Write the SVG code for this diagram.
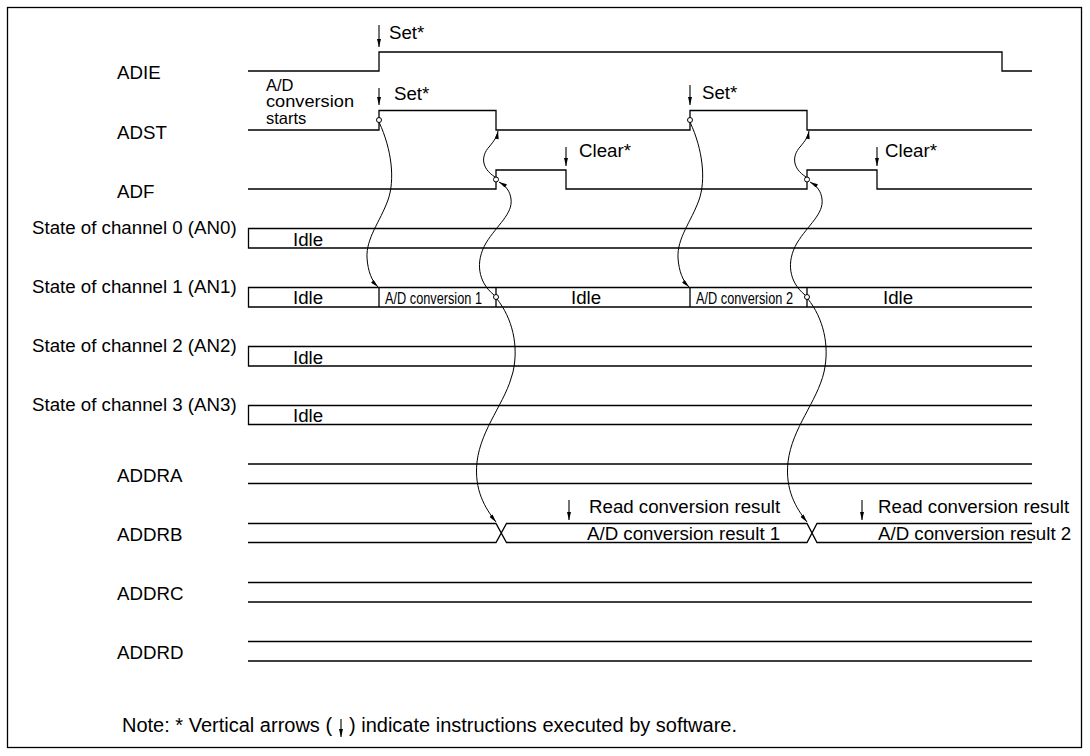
<svg xmlns="http://www.w3.org/2000/svg" width="1090" height="756" viewBox="0 0 1090 756">
<defs>
<marker id="ah" viewBox="0 0 10 5" refX="10" refY="2.5" markerWidth="9" markerHeight="4" markerUnits="userSpaceOnUse" orient="auto"><path d="M0,0 L10,2.5 L0,5 z" fill="#000"/></marker>
<style>
text{font-family:"Liberation Sans",Arial,sans-serif;font-size:18.7px;fill:#000}
.sm{font-size:16px}
.st{font-size:16.5px}
.nt{font-size:20px}
.w{fill:none;stroke:#000;stroke-width:1.3}
.c{fill:none;stroke:#000;stroke-width:1}
.sw{fill:none;stroke:#000;stroke-width:1.1;marker-end:url(#ah)}
.o{fill:#fff;stroke:#000;stroke-width:1}
</style>
</defs>
<rect x="0" y="0" width="1090" height="756" fill="#fff"/>
<rect x="7.5" y="7.5" width="1074" height="740" fill="none" stroke="#000" stroke-width="1.3"/>

<g id="adie">
<text x="117" y="79">ADIE</text>
<path class="w" d="M248,71 H379 V52 H1002 V71 H1032"/>
<line class="sw" x1="379" y1="25" x2="379" y2="47"/>
<text x="389" y="39">Set*</text>
</g>

<g id="adst">
<text x="117" y="139">ADST</text>
<text class="st" x="266" y="90.5"><tspan x="266" y="90.5">A/D</tspan><tspan x="266" y="107" textLength="88" lengthAdjust="spacingAndGlyphs">conversion</tspan><tspan x="266" y="123.5">starts</tspan></text>
<path class="w" d="M248,130 H379 V110.5 H496 V130 H690 V110.5 H807 V130 H1032"/>
<line class="sw" x1="379" y1="88" x2="379" y2="105"/>
<text x="394" y="100">Set*</text>
<line class="sw" x1="690" y1="85" x2="690" y2="105"/>
<text x="702" y="99">Set*</text>
</g>

<g id="adf">
<text x="117" y="198">ADF</text>
<path class="w" d="M248,189 H496 V170 H566 V189 H807 V170 H877 V189 H1032"/>
<line class="sw" x1="566" y1="147" x2="566" y2="166"/>
<text x="579" y="157">Clear*</text>
<line class="sw" x1="877" y1="147" x2="877" y2="166"/>
<text x="885" y="157">Clear*</text>
</g>

<g id="ch0">
<text x="32" y="234">State of channel 0 (AN0)</text>
<path class="w" d="M1032,228.5 H248.5 V248 H1032"/>
<text x="293" y="245.5">Idle</text>
</g>

<g id="ch1">
<text x="32" y="293">State of channel 1 (AN1)</text>
<path class="w" d="M1032,287.5 H248.5 V307 H1032 M379,287.5 V307 M496,287.5 V307 M690,287.5 V307 M807,287.5 V307"/>
<text x="293" y="304">Idle</text>
<text class="sm" x="385" y="303.5" textLength="97" lengthAdjust="spacingAndGlyphs">A/D conversion 1</text>
<text x="571" y="304">Idle</text>
<text class="sm" x="696" y="303.5" textLength="97" lengthAdjust="spacingAndGlyphs">A/D conversion 2</text>
<text x="883" y="304">Idle</text>
</g>

<g id="ch2">
<text x="32" y="352">State of channel 2 (AN2)</text>
<path class="w" d="M1032,346.5 H248.5 V366 H1032"/>
<text x="293" y="363.5">Idle</text>
</g>

<g id="ch3">
<text x="32" y="411">State of channel 3 (AN3)</text>
<path class="w" d="M1032,405.5 H248.5 V424.5 H1032"/>
<text x="293" y="422">Idle</text>
</g>

<g id="addra">
<text x="117" y="482">ADDRA</text>
<path class="w" d="M248,464 H1032 M248,483.5 H1032"/>
</g>

<g id="addrb">
<text x="117" y="541">ADDRB</text>
<path class="w" d="M248,523.5 H496 L506.5,542.5 H807 L817,523.5 H1032 M248,542.5 H496 L506.5,523.5 H807 L817,542.5 H1032"/>
<line class="sw" x1="569" y1="500" x2="569" y2="520"/>
<text x="589" y="513">Read conversion result</text>
<text x="587" y="540">A/D conversion result 1</text>
<line class="sw" x1="862" y1="500" x2="862" y2="520"/>
<text x="878" y="513">Read conversion result</text>
<text x="878" y="540">A/D conversion result 2</text>
</g>

<g id="addrc">
<text x="117" y="600">ADDRC</text>
<path class="w" d="M248,582.5 H1032 M248,602 H1032"/>
</g>

<g id="addrd">
<text x="117" y="659">ADDRD</text>
<path class="w" d="M248,641.5 H1032 M248,661 H1032"/>
</g>

<g id="connectors">
<path class="c" marker-end="url(#ah)" d="M379,122 C392,150 395,180 388,200 C380,222 366,238 367,258 C368,272 372,281 378,287"/>
<path class="c" marker-end="url(#ah)" d="M495,177 C481,168 481,156 489,147 C494,141 497,137 498,131"/>
<path class="c" marker-end="url(#ah)" d="M497,299 C512,318 519,345 513,372 C506,402 481,428 477,462 C474,490 485,508 496,522"/>
<path class="c" marker-end="url(#ah)" d="M494,295 C478,282 475,262 486,243 C497,225 513,214 511,199 C510,191 506,186 499,182"/>
<path class="c" marker-end="url(#ah)" d="M690,122 C703,150 706,180 699,200 C691,222 677,238 678,258 C679,272 683,281 689,287"/>
<path class="c" marker-end="url(#ah)" d="M806,177 C792,168 792,156 800,147 C805,141 808,137 809,131"/>
<path class="c" marker-end="url(#ah)" d="M808,299 C823,318 830,345 824,372 C817,402 792,428 788,462 C785,490 796,508 807,522"/>
<path class="c" marker-end="url(#ah)" d="M805,295 C789,282 786,262 797,243 C808,225 824,214 822,199 C821,191 817,186 810,182"/>
<circle class="o" cx="379" cy="120" r="2.5"/>
<circle class="o" cx="496" cy="179.5" r="2.5"/>
<circle class="o" cx="496" cy="297" r="2.5"/>
<circle class="o" cx="690" cy="120" r="2.5"/>
<circle class="o" cx="807" cy="179.5" r="2.5"/>
<circle class="o" cx="807" cy="297" r="2.5"/>
</g>

<g id="note">
<text class="nt" x="122" y="732">Note: * Vertical arrows (</text>
<line class="sw" x1="341" y1="719" x2="341" y2="737"/>
<text class="nt" x="349" y="732">) indicate instructions executed by software.</text>
</g>
</svg>
